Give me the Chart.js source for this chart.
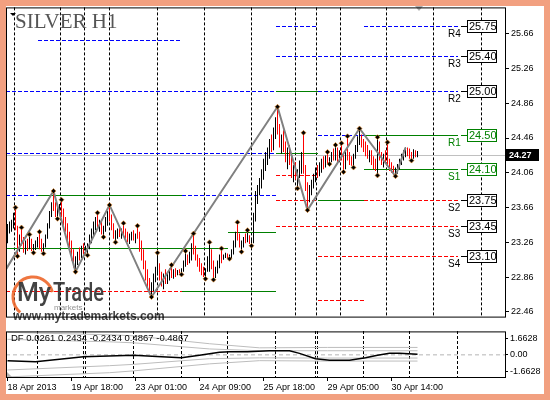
<!DOCTYPE html>
<html>
<head>
<meta charset="utf-8">
<script src="https://cdn.jsdelivr.net/npm/chart.js@4.4.1/dist/chart.umd.min.js"></script>
<style>
  body { margin:0; width:550px; height:400px; overflow:hidden; background:#f2a080; position:relative; }
  #paper { position:absolute; left:6px; top:6px; width:538px; height:388px; background:#fff; }
  canvas { position:absolute; left:0; }
  #main { top:0; }
  #sub { top:324px; }
</style>
</head>
<body>
<div id="paper"></div>
<canvas id="main" width="550" height="324"></canvas>
<canvas id="sub" width="550" height="76"></canvas>
<script>
// SILVER H1 bars, one per hour, index 0 = first bar on screen
var firstOpen = 23.30;
var highs = [
  23.47,23.50,23.52,23.60,23.66,23.45,23.35,23.43,23.32,23.28,
  23.30,23.35,23.30,23.24,23.28,23.32,23.38,23.30,23.25,23.35,
  23.48,23.62,23.72,23.85,23.72,23.66,23.70,23.75,23.65,23.55,
  23.48,23.38,23.28,23.18,23.10,23.15,23.20,23.22,23.25,23.22,
  23.25,23.35,23.42,23.50,23.55,23.60,23.52,23.50,23.45,23.55,
  23.62,23.69,23.58,23.48,23.40,23.42,23.44,23.42,23.48,23.42,
  23.38,23.36,23.38,23.40,23.36,23.45,23.38,23.28,23.18,23.05,
  22.95,22.85,22.80,22.90,22.98,23.14,23.02,22.92,22.90,22.95,
  22.92,22.96,23.00,22.95,22.96,22.94,22.95,22.96,23.05,23.16,
  23.12,23.15,23.25,23.36,23.22,23.12,23.08,23.02,22.98,22.96,
  23.10,23.26,23.18,23.05,22.98,23.05,23.12,23.19,23.12,23.14,
  23.13,23.12,23.18,23.28,23.38,23.49,23.36,23.28,23.32,23.36,
  23.40,23.34,23.30,23.60,23.85,23.92,24.00,24.10,24.22,24.30,
  24.35,24.45,24.50,24.58,24.70,24.82,24.62,24.50,24.55,24.42,
  24.35,24.38,24.25,24.15,24.18,24.10,24.20,24.30,24.52,24.15,
  23.95,23.92,23.98,24.05,24.12,24.15,24.18,24.22,24.25,24.26,
  24.30,24.24,24.30,24.34,24.38,24.35,24.32,24.40,24.28,24.30,
  24.48,24.30,24.25,24.28,24.38,24.48,24.57,24.50,24.45,24.42,
  24.38,24.32,24.32,24.25,24.22,24.47,24.42,24.30,24.28,24.32,
  24.41,24.22,24.18,24.14,24.12,24.16,24.22,24.28,24.32,24.35,
  24.35,24.34,24.30,24.33,24.32,24.31
];
var lows = [
  23.25,23.36,23.38,23.42,23.40,23.10,23.15,23.22,23.14,23.12,
  23.16,23.18,23.16,23.14,23.17,23.20,23.18,23.15,23.13,23.20,
  23.30,23.42,23.55,23.62,23.55,23.53,23.58,23.55,23.45,23.38,
  23.28,23.18,23.05,22.97,22.92,23.00,23.05,23.08,23.12,23.12,
  23.11,23.18,23.25,23.32,23.40,23.42,23.38,23.35,23.32,23.38,
  23.45,23.50,23.40,23.30,23.26,23.30,23.32,23.30,23.34,23.30,
  23.26,23.24,23.28,23.28,23.25,23.30,23.15,23.05,22.95,22.82,
  22.72,22.66,22.63,22.70,22.80,22.88,22.82,22.75,22.72,22.78,
  22.78,22.82,22.85,22.84,22.86,22.88,22.90,22.89,22.92,22.98,
  23.00,23.02,23.05,23.12,23.05,22.98,22.92,22.88,22.86,22.84,
  22.92,22.92,22.95,22.83,22.85,22.90,22.96,23.02,23.06,23.08,
  23.08,23.07,23.08,23.12,23.20,23.28,23.20,23.15,23.20,23.25,
  23.26,23.24,23.22,23.25,23.50,23.70,23.80,23.88,23.98,24.08,
  24.15,24.22,24.30,24.32,24.45,24.50,24.35,24.28,24.30,24.18,
  24.10,24.15,24.00,23.95,23.98,23.88,24.00,24.05,24.05,23.85,
  23.63,23.72,23.80,23.88,23.95,24.00,24.02,24.06,24.10,24.12,
  24.16,24.16,24.18,24.20,24.20,24.18,24.18,24.20,24.07,24.10,
  24.20,24.15,24.14,24.12,24.22,24.30,24.38,24.35,24.30,24.25,
  24.22,24.18,24.15,24.10,24.08,24.03,24.20,24.15,24.12,24.16,
  24.15,24.08,24.06,24.04,24.02,24.05,24.10,24.15,24.20,24.24,
  24.25,24.22,24.20,24.22,24.24,24.24
];
var closes = [
  23.42,23.45,23.48,23.58,23.43,23.20,23.30,23.25,23.20,23.24,
  23.20,23.30,23.18,23.20,23.25,23.28,23.20,23.18,23.22,23.33,
  23.45,23.58,23.70,23.66,23.60,23.63,23.68,23.58,23.48,23.42,
  23.32,23.22,23.10,23.02,23.06,23.12,23.10,23.20,23.15,23.18,
  23.22,23.32,23.38,23.46,23.50,23.45,23.48,23.40,23.42,23.52,
  23.58,23.55,23.45,23.35,23.36,23.38,23.35,23.40,23.38,23.34,
  23.30,23.33,23.35,23.30,23.34,23.33,23.20,23.10,23.00,22.88,
  22.78,22.72,22.76,22.85,22.92,22.95,22.86,22.80,22.85,22.82,
  22.88,22.90,22.88,22.92,22.90,22.92,22.91,22.94,23.02,23.12,
  23.05,23.10,23.20,23.18,23.08,23.02,22.96,22.92,22.90,22.94,
  23.08,23.18,22.98,22.90,22.95,23.02,23.08,23.05,23.08,23.10,
  23.09,23.10,23.15,23.25,23.35,23.32,23.22,23.25,23.30,23.28,
  23.32,23.26,23.28,23.55,23.80,23.88,23.95,24.05,24.15,24.25,
  24.30,24.40,24.35,24.55,24.65,24.55,24.40,24.45,24.35,24.22,
  24.28,24.20,24.05,24.10,24.00,24.05,24.15,24.25,24.10,23.90,
  23.80,23.88,23.95,24.00,24.08,24.05,24.12,24.18,24.15,24.22,
  24.20,24.22,24.28,24.25,24.30,24.22,24.28,24.25,24.12,24.26,
  24.25,24.20,24.18,24.25,24.35,24.45,24.45,24.40,24.35,24.30,
  24.25,24.28,24.18,24.15,24.12,24.40,24.25,24.20,24.22,24.20,
  24.18,24.12,24.10,24.08,24.10,24.14,24.20,24.25,24.30,24.32,
  24.28,24.26,24.24,24.30,24.26,24.27
];

// fractal arrows (bar indexes) and zigzag turning points
var fractalUpIdx = [4,7,11,16,23,27,45,51,58,65,75,82,89,93,101,107,115,120,135,148,160,164,167,170,176,185,190];
var fractalDownIdx = [5,13,18,25,34,40,48,54,72,87,99,103,111,117,122,145,150,161,168,173,185,194,202];
var zigzagIdx = [-1,23,34,51,72,135,150,176,194,199];
var zigzagPrice = [22.94,23.85,22.92,23.69,22.63,24.82,23.63,24.57,24.02,24.35];

// daily pivot levels: R = resistance, P = pivot, S = support
var levelPrice = [25.59,25.00,24.29,23.80,23.80,23.80,23.19,23.38,22.70,22.70,
                  25.75,25.75,25.40,25.00,25.00,24.50,24.50,24.29,24.04,24.10,23.75,23.75,23.75,23.45,23.10,22.60];
var levelFrom  = [15,-0.75,-0.75,-0.75,15,87,-0.75,110,-0.75,87,
                  134,178,134,134,155,155,178,134,134,178,134,155,178,134,155,155];
var levelTo    = [87,134,134,15,87,134,110,134,87,134,
                  155,225,225,155,225,178,225,155,155,225,155,178,225,225,225,178];
var levelKind  = ['R','R','R','R','P','R','P','P','S','P',
                  'R','R','R','P','R','R','P','P','S','P','S','P','S','S','S','S'];
var labelNames  = ['R4','R3','R2','R1','S1','S2','S3','S4'];
var labelPrices = [25.75,25.40,25.00,24.50,24.10,23.75,23.45,23.10];
var labelAt = 225;

// axes
var priceTicks = [22.46,22.86,23.26,23.66,24.06,24.46,24.86,25.26,25.66];
var daySeparators = [15,38,39,63,87,110,134,154,155,178,201,225];
var timeTickIdx = [0,32,64,96,128,160,192];
var timeLabels = ['18 Apr 2013','19 Apr 18:00','23 Apr 01:00','24 Apr 09:00','25 Apr 18:00','29 Apr 05:00','30 Apr 14:00'];

// DF indicator window
var dfIdx   = [0,14,38,63,77,87,96,106,111,120,131,141,146,154,161,171,179,185,191,196,205];
var dfValue = [-0.58,-0.70,-0.20,-0.03,-0.20,-0.29,-0.03,0.25,0.32,0.32,0.41,0.41,0.15,-0.38,-0.55,-0.55,-0.29,-0.03,0.15,0.15,0.05];
var bandIdx = [0,51,63,101,126,160,205];
var bandUp2 = [2.25,2.00,1.90,1.11,0.70,0.74,0.74];
var bandUp1 = [1.55,1.30,1.20,0.59,0.41,0.41,0.41];
var bandLo1 = [-1.51,-1.08,-0.95,-0.38,-0.30,-0.32,-0.32];
var bandLo2 = [-2.20,-1.78,-1.60,-0.90,-0.58,-0.62,-0.62];
var dfLegend = [0.0261,0.2434,-0.2434,0.4867,-0.4867];
var dfTicks = [-1.6628,0,1.6628];

var xMin = -0.75, xMax = 248.75;
var lastClose = closes[closes.length - 1];

Chart.defaults.font.family = "'Liberation Sans', Arial, sans-serif";
Chart.defaults.font.size = 9;
Chart.defaults.color = '#000';

//--------------------------------------------------------------------
// * main price window
//--------------------------------------------------------------------
var barPoints = [], barColors = [];
for (var i = 0; i < highs.length; i++) {
    var open = i ? closes[i - 1] : firstOpen;
    barPoints.push({x: i, y: [lows[i], highs[i]]});
    barColors.push(closes[i] < open ? '#ff0000' : '#000000');
}

var kindColor = {R: '#0000ff', P: '#008000', S: '#ff0000'};

var datasets = [{
    type: 'scatter',
    data: fractalUpIdx.map(function(k) { return {x: k, y: highs[k]}; })
        .concat(fractalDownIdx.map(function(k) { return {x: k, y: lows[k]}; })),
    pointStyle: 'rectRot', pointRadius: 2.5,
    backgroundColor: '#000', borderColor: 'rgba(235,140,40,0.6)', borderWidth: 1,
    order: 0
}, {
    type: 'line',
    data: zigzagIdx.map(function(k, n) { return {x: k, y: zigzagPrice[n]}; }),
    borderColor: '#808080', borderWidth: 2, pointRadius: 0,
    order: 1
}, {
    type: 'bar',
    data: barPoints,
    backgroundColor: barColors,
    barThickness: 1, inflateAmount: 0, borderWidth: 0, grouped: false,
    order: 2
}];

// pivot segments and the bid line, snapped to whole pixels like the terminal draws them
var levelLines = {
    id: 'levelLines',
    beforeDatasetsDraw: function(chart) {
        var ctx = chart.ctx, xs = chart.scales.x, ys = chart.scales.y, a = chart.chartArea;
        ctx.save();
        ctx.beginPath(); ctx.rect(a.left, a.top, a.right - a.left, a.bottom - a.top); ctx.clip();
        ctx.lineWidth = 1;
        var py = Math.round(ys.getPixelForValue(lastClose)) + 0.5;
        ctx.strokeStyle = '#c0c0c0'; ctx.setLineDash([]);
        ctx.beginPath(); ctx.moveTo(a.left, py); ctx.lineTo(a.right, py); ctx.stroke();
        levelPrice.forEach(function(p, k) {
            var y = Math.round(ys.getPixelForValue(p)) + 0.5;
            ctx.strokeStyle = kindColor[levelKind[k]];
            ctx.setLineDash(levelKind[k] == 'P' ? [] : [4, 2]);
            ctx.beginPath();
            ctx.moveTo(Math.round(xs.getPixelForValue(levelFrom[k])), y);
            ctx.lineTo(Math.round(xs.getPixelForValue(levelTo[k])), y);
            ctx.stroke();
        });
        ctx.restore();
    }
};

function tri(ctx, x, y, w, h, col) {
    ctx.fillStyle = col;
    ctx.beginPath();
    ctx.moveTo(x, y); ctx.lineTo(x + w, y); ctx.lineTo(x + w / 2, y + h);
    ctx.closePath(); ctx.fill();
}

var mainDecor = {
    id: 'mainDecor',
    afterDatasetsDraw: function(chart) {
        var ctx = chart.ctx, xs = chart.scales.x, ys = chart.scales.y, a = chart.chartArea;
        ctx.save();

        // logo
        ctx.globalAlpha = 0.92;
        ctx.strokeStyle = '#ee6a30'; ctx.lineWidth = 3;
        ctx.beginPath(); ctx.arc(33, 297, 20, 0.72 * Math.PI, 1.92 * Math.PI); ctx.stroke();
        ctx.fillStyle = '#333';
        ctx.font = '500 25px Roboto';
        ctx.textAlign = 'left'; ctx.textBaseline = 'alphabetic';
        ctx.fillText('My', 17, 301);
        ctx.save(); ctx.translate(53, 301); ctx.scale(0.8, 1); ctx.fillText('Trade', 0, 0); ctx.restore();
        ctx.fillStyle = '#888'; ctx.font = '8px "Liberation Sans"';
        ctx.fillText('markets', 54, 310);
        ctx.fillStyle = '#333'; ctx.font = 'bold 12px "Liberation Sans"';
        ctx.fillText('www.mytrademarkets.com', 13, 320);
        ctx.globalAlpha = 1;

        // title
        ctx.fillStyle = '#555'; ctx.font = '21px "Liberation Serif"';
        ctx.fillText('SILVER H1', 15, 28);
        tri(ctx, 10, 13, 6, 3, '#000');
        tri(ctx, 415, 6, 8, 5, '#b0b0b0');

        // level labels
        var xr = Math.round(xs.getPixelForValue(labelAt));
        ctx.textBaseline = 'middle'; ctx.lineWidth = 1;
        labelNames.forEach(function(name, k) {
            var py = Math.round(ys.getPixelForValue(labelPrices[k]));
            var col = (name == 'R1' || name == 'S1') ? '#008000' : '#000';
            ctx.fillStyle = col; ctx.strokeStyle = col;
            ctx.font = '10px "Liberation Sans"';
            ctx.fillText(name, xr - 10, py + 8);
            ctx.beginPath(); ctx.moveTo(xr + 3, py + 0.5); ctx.lineTo(xr + 10, py + 0.5); ctx.stroke();
            ctx.fillStyle = '#fff'; ctx.fillRect(xr + 10, py - 6, 29, 13);
            ctx.strokeRect(xr + 9.5, py - 5.5, 29, 12);
            ctx.fillStyle = col; ctx.font = '11px "Liberation Sans"';
            ctx.fillText(labelPrices[k].toFixed(2), xr + 11, py + 1);
        });

        // frame
        ctx.strokeStyle = '#000';
        ctx.strokeRect(a.left + 0.5, a.top + 0.5, a.right - a.left, a.bottom - a.top);

        // last price box
        var lp = Math.round(ys.getPixelForValue(lastClose));
        ctx.fillStyle = '#000'; ctx.fillRect(a.right + 1, lp - 6, 33, 12);
        ctx.fillStyle = '#fff'; ctx.font = 'bold 9px "Liberation Sans"';
        ctx.fillText(lastClose.toFixed(2), a.right + 4, lp + 0.5);
        ctx.restore();
    }
};

new Chart(document.getElementById('main').getContext('2d'), {
    type: 'bar',
    data: {datasets: datasets},
    options: {
        responsive: false, animation: false, devicePixelRatio: 1,
        layout: {padding: {left: 6, top: 6, right: 0, bottom: 1}},
        plugins: {legend: {display: false}, tooltip: {enabled: false}},
        scales: {
            x: {
                type: 'linear', min: xMin, max: xMax, offset: false,
                afterFit: function(s) { s.height = 0; },
                afterBuildTicks: function(s) { s.ticks = daySeparators.map(function(v) { return {value: v}; }); },
                ticks: {display: false},
                grid: {color: '#000', drawTicks: false},
                border: {display: false, dash: [3, 2]}
            },
            y: {
                position: 'right', min: 22.405, max: 25.963,
                afterFit: function(s) { s.width = 45; },
                afterBuildTicks: function(s) { s.ticks = priceTicks.map(function(v) { return {value: v}; }); },
                ticks: {padding: 2, callback: function(v) { return v.toFixed(2); }},
                grid: {drawOnChartArea: false, color: '#000', tickLength: 4},
                border: {display: false}
            }
        }
    },
    plugins: [levelLines, mainDecor]
});

//--------------------------------------------------------------------
// * DF indicator window with the time axis
//--------------------------------------------------------------------
function series(idx, vals) {
    return idx.map(function(k, n) { return {x: k, y: vals[n]}; });
}

var subDecor = {
    id: 'subDecor',
    afterDraw: function(chart) {
        var ctx = chart.ctx, a = chart.chartArea;
        ctx.save();
        ctx.strokeStyle = '#000'; ctx.lineWidth = 1;
        ctx.strokeRect(a.left + 0.5, a.top + 0.5, a.right - a.left, a.bottom - a.top);
        ctx.fillStyle = '#000'; ctx.font = '9.5px "Liberation Sans"';
        ctx.textBaseline = 'middle'; ctx.textAlign = 'left';
        ctx.fillText('DF ' + dfLegend.map(function(v) { return v.toFixed(4); }).join(' '), 11, a.top + 7);
        ctx.fillStyle = '#b0b0b0';
        ctx.beginPath(); ctx.moveTo(7, a.bottom - 5); ctx.lineTo(7, a.bottom); ctx.lineTo(12, a.bottom); ctx.closePath(); ctx.fill();
        ctx.restore();
    }
};

new Chart(document.getElementById('sub').getContext('2d'), {
    type: 'line',
    data: {datasets: [
        {data: series(dfIdx, dfValue), borderColor: '#000', borderWidth: 1.5, pointRadius: 0},
        {data: series(bandIdx, bandUp2), borderColor: '#bdbdbd', borderWidth: 1, pointRadius: 0},
        {data: series(bandIdx, bandUp1), borderColor: '#bdbdbd', borderWidth: 1, pointRadius: 0},
        {data: series(bandIdx, bandLo1), borderColor: '#bdbdbd', borderWidth: 1, pointRadius: 0},
        {data: series(bandIdx, bandLo2), borderColor: '#bdbdbd', borderWidth: 1, pointRadius: 0},
        {data: [{x: xMin, y: 0}, {x: xMax, y: 0}], borderColor: '#b4b4b4', borderWidth: 1, borderDash: [4, 3], pointRadius: 0}
    ]},
    options: {
        responsive: false, animation: false, devicePixelRatio: 1,
        layout: {padding: {left: 6, top: 1, right: 0, bottom: 0}},
        plugins: {legend: {display: false}, tooltip: {enabled: false}},
        scales: {
            x: {
                type: 'linear', min: xMin, max: xMax, offset: false,
                afterFit: function(s) { s.height = 23; },
                afterBuildTicks: function(s) { s.ticks = timeTickIdx.map(function(v) { return {value: v}; }); },
                ticks: {align: 'start', autoSkip: false, maxRotation: 0, padding: 1,
                        callback: function(v, n) { return timeLabels[n]; }},
                grid: {drawOnChartArea: false, color: '#000', tickLength: 4},
                border: {display: false}
            },
            x2: {
                axis: 'x', type: 'linear', position: 'top', min: xMin, max: xMax, offset: false,
                afterFit: function(s) { s.height = 0; },
                afterBuildTicks: function(s) { s.ticks = daySeparators.map(function(v) { return {value: v}; }); },
                ticks: {display: false},
                grid: {color: '#000', drawTicks: false},
                border: {display: false, dash: [3, 2]}
            },
            y: {
                position: 'right', min: -2.21, max: 2.34,
                afterFit: function(s) { s.width = 45; },
                afterBuildTicks: function(s) { s.ticks = dfTicks.map(function(v) { return {value: v}; }); },
                ticks: {padding: 2, callback: function(v) { return v === 0 ? '0.00' : v.toFixed(4); }},
                grid: {drawOnChartArea: false, color: '#000', tickLength: 3},
                border: {display: false}
            }
        }
    },
    plugins: [subDecor]
});
</script>
</body>
</html>
